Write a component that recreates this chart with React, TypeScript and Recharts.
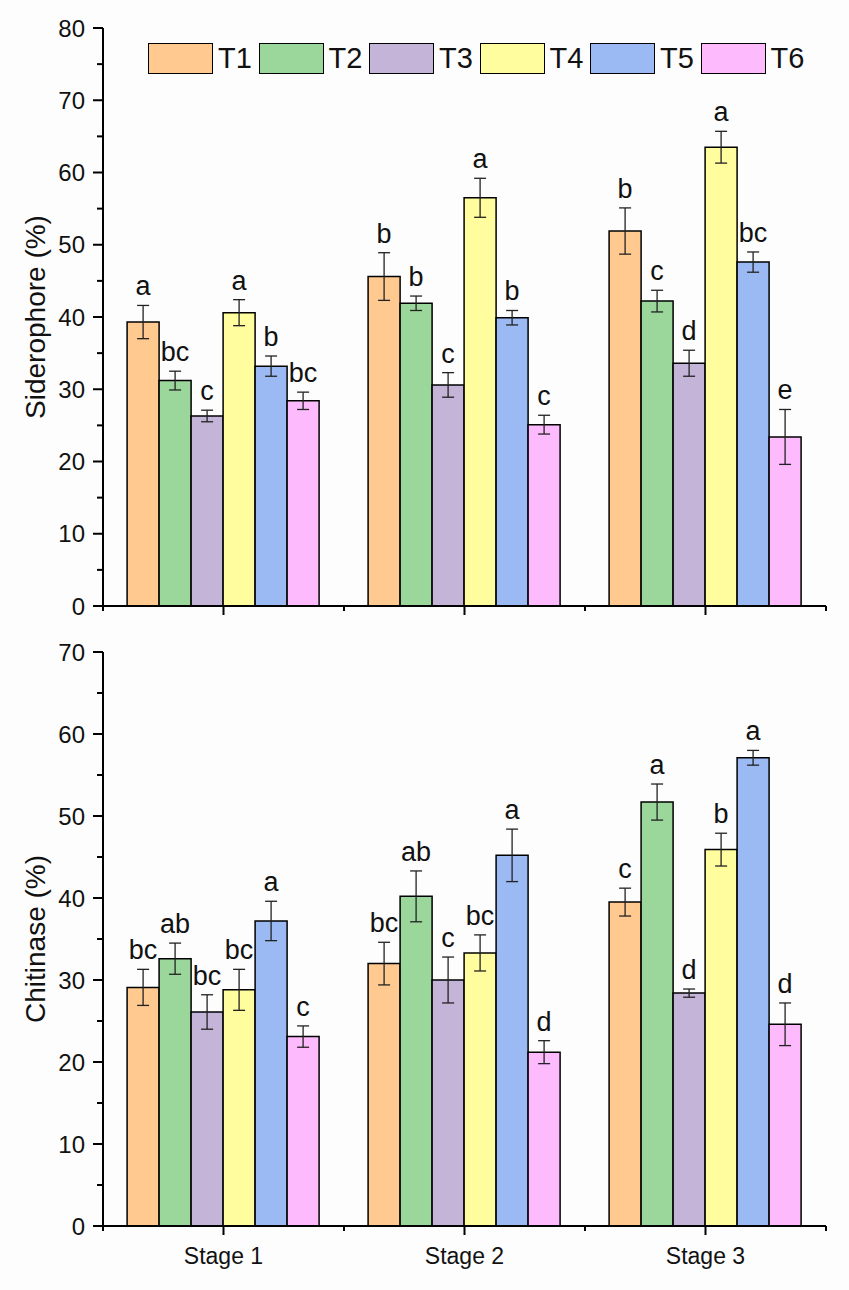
import { BarChart, Bar, XAxis, YAxis, ErrorBar, LabelList, Legend, Label } from 'recharts';

const stages = ['Stage 1', 'Stage 2', 'Stage 3'];
const treatments = ['T1', 'T2', 'T3', 'T4', 'T5', 'T6'];
const colors = ['#FFC990', '#9BD69B', '#C4B4D8', '#FFFD9E', '#9BB9F2', '#FDBBFD'];

// per treatment: [stage 1, stage 2, stage 3]
const sidMeans = [
  [39.3, 45.6, 51.9],
  [31.2, 41.9, 42.2],
  [26.3, 30.6, 33.6],
  [40.6, 56.5, 63.5],
  [33.2, 39.9, 47.6],
  [28.4, 25.1, 23.4],
];
const sidErrors = [
  [2.3, 3.3, 3.2],
  [1.3, 1.0, 1.5],
  [0.8, 1.7, 1.8],
  [1.8, 2.7, 2.2],
  [1.4, 1.0, 1.4],
  [1.2, 1.3, 3.8],
];
const sidLetters = [
  ['a', 'b', 'b'],
  ['bc', 'b', 'c'],
  ['c', 'c', 'd'],
  ['a', 'a', 'a'],
  ['b', 'b', 'bc'],
  ['bc', 'c', 'e'],
];

const chiMeans = [
  [29.1, 32.0, 39.5],
  [32.6, 40.2, 51.7],
  [26.1, 30.0, 28.4],
  [28.8, 33.3, 45.9],
  [37.2, 45.2, 57.1],
  [23.1, 21.2, 24.6],
];
const chiErrors = [
  [2.2, 2.6, 1.7],
  [1.9, 3.1, 2.2],
  [2.1, 2.8, 0.5],
  [2.5, 2.2, 2.0],
  [2.4, 3.2, 0.9],
  [1.3, 1.4, 2.6],
];
const chiLetters = [
  ['bc', 'bc', 'c'],
  ['ab', 'ab', 'a'],
  ['bc', 'c', 'd'],
  ['bc', 'bc', 'b'],
  ['a', 'a', 'a'],
  ['c', 'd', 'd'],
];

const sidTicks = [0, 5, 10, 15, 20, 25, 30, 35, 40, 45, 50, 55, 60, 65, 70, 75, 80];
const chiTicks = [0, 5, 10, 15, 20, 25, 30, 35, 40, 45, 50, 55, 60, 65, 70];

const FONT = '"Liberation Sans", Arial, sans-serif';
const W = 849;
const AXIS_X = 103;
const RIGHT = 23;
const BAND = (W - AXIS_X - RIGHT) / stages.length;

function buildRows(means: number[][], errors: number[][], letters: string[][]) {
  return stages.map((stage, s) => {
    const row: any = { stage };
    treatments.forEach((t, i) => {
      row[t] = means[i][s];
      row[t + 'e'] = errors[i][s];
      row[t + 'l'] = letters[i][s];
    });
    return row;
  });
}

const sidData = buildRows(sidMeans, sidErrors, sidLetters);
const chiData = buildRows(chiMeans, chiErrors, chiLetters);

const YTick = ({ x, y, payload }: any) => {
  const major = payload.value % 10 === 0;
  return (
    <g>
      <line x1={x} x2={x - (major ? 10 : 6)} y1={y} y2={y} stroke="#000" strokeWidth={2} />
      {major && (
        <text x={x - 18} y={y} textAnchor="end" dominantBaseline="central" fontSize={24} fontFamily={FONT} fill="#111">
          {payload.value}
        </text>
      )}
    </g>
  );
};

const makeXTick = (showText: boolean) => ({ x, y, payload }: any) => (
  <g>
    <line x1={x} x2={x} y1={y} y2={y + 9} stroke="#000" strokeWidth={2} />
    <line x1={x - BAND / 2} x2={x - BAND / 2} y1={y} y2={y + 5} stroke="#000" strokeWidth={2} />
    <line x1={x + BAND / 2} x2={x + BAND / 2} y1={y} y2={y + 5} stroke="#000" strokeWidth={2} />
    {showText && (
      <text x={x} y={y + 30} textAnchor="middle" dominantBaseline="central" fontSize={23} fontFamily={FONT} fill="#111">
        {payload.value}
      </text>
    )}
  </g>
);

const makeLetter = (data: any[], key: string, pxPerUnit: number) => (props: any) => {
  const { x, y, width, index, value } = props;
  const err = data[index][key + 'e'];
  const top = y - err * pxPerUnit;
  return (
    <text x={x + width / 2} y={top - 10} textAnchor="middle" fontSize={27} fontFamily={FONT} fill="#111">
      {value}
    </text>
  );
};

const LegendBoxes = () => (
  <div style={{ display: 'flex', fontFamily: FONT }}>
    {treatments.map((t, i) => (
      <div key={t} style={{ width: 110.5, display: 'flex', alignItems: 'center' }}>
        <div style={{ width: 63, height: 29, background: colors[i], border: '1.5px solid #000' }} />
        <span style={{ fontSize: 29, marginLeft: 5, color: '#111' }}>{t}</span>
      </div>
    ))}
  </div>
);

const YTitle = (text: string) => ({ viewBox }: any) => {
  const cy = viewBox.y + viewBox.height / 2;
  return (
    <text x={35} y={cy} transform={`rotate(-90, 35, ${cy})`} textAnchor="middle" dominantBaseline="central" fontSize={28} fontFamily={FONT} fill="#111">
      {text}
    </text>
  );
};

function Panel({ data, height, margin, yMax, ticks, title, showX, xHeight, legend }: any) {
  const plotH = height - margin.top - margin.bottom - xHeight;
  const pxPerUnit = plotH / yMax;
  return (
    <BarChart width={W} height={height} data={data} margin={margin} barCategoryGap="10%" barGap={0}>
      <XAxis
        dataKey="stage"
        height={xHeight}
        tickSize={0}
        tickMargin={0}
        axisLine={{ stroke: '#000', strokeWidth: 2 }}
        tick={makeXTick(showX)}
        interval={0}
      />
      <YAxis
        width={AXIS_X - margin.left}
        domain={[0, yMax]}
        ticks={ticks}
        interval={0}
        tickSize={0}
        tickMargin={0}
        axisLine={{ stroke: '#000', strokeWidth: 2 }}
        tick={<YTick />}
      >
        <Label content={YTitle(title)} />
      </YAxis>
      {legend && (
        <Legend
          layout="horizontal"
          verticalAlign="middle"
          content={<LegendBoxes />}
          wrapperStyle={{ position: 'absolute', top: 42, left: 148, width: 700, height: 32 }}
        />
      )}
      {treatments.map((t, i) => (
        <Bar key={t} dataKey={t} fill={colors[i]} stroke="#000" strokeWidth={1.5} isAnimationActive={false}>
          <ErrorBar dataKey={t + 'e'} width={6} stroke="#222" strokeWidth={1.3} direction="y" isAnimationActive={false} />
          <LabelList dataKey={t + 'l'} content={makeLetter(data, t, pxPerUnit)} />
        </Bar>
      ))}
    </BarChart>
  );
}

export default function App() {
  return (
    <div style={{ position: 'absolute', top: 0, left: 0, width: W, height: 1290, background: '#fdfdfd', fontFamily: FONT }}>
      <div style={{ position: 'absolute', top: 0, left: 0 }}>
        <Panel
          data={sidData}
          height={640}
          margin={{ top: 28, right: RIGHT, bottom: 4, left: 43 }}
          yMax={80}
          ticks={sidTicks}
          title="Siderophore (%)"
          showX={false}
          xHeight={30}
          legend
        />
      </div>
      <div style={{ position: 'absolute', top: 640, left: 0 }}>
        <Panel
          data={chiData}
          height={650}
          margin={{ top: 12, right: RIGHT, bottom: 14, left: 43 }}
          yMax={70}
          ticks={chiTicks}
          title="Chitinase (%)"
          showX
          xHeight={50}
        />
      </div>
    </div>
  );
}
